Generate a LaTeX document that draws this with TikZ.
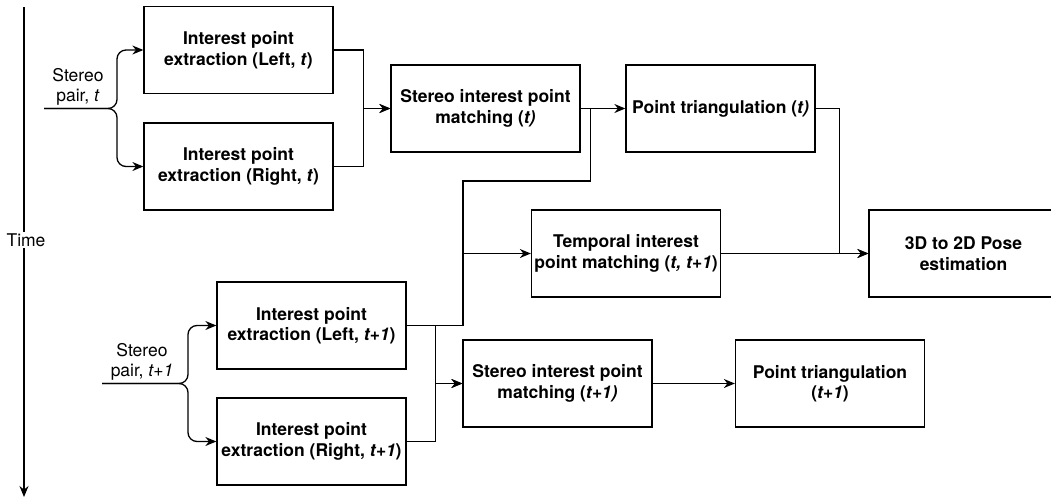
\documentclass[tikz,border=0pt]{standalone}
\usepackage{fontspec}
\setmainfont{TeX Gyre Heros}
\usetikzlibrary{arrows.meta}

\begin{document}
\begin{tikzpicture}[x=1pt,y=-1pt,
  box/.style={draw, line width=1.3pt, minimum width=189pt, minimum height=87pt,
    align=center, font=\fontsize{17.5}{20.5}\selectfont\bfseries, inner sep=2pt},
  lbl/.style={align=center, font=\fontsize{17.5}{20.5}\selectfont},
  link/.style={line width=1.3pt},
  arr/.style={link, -{Stealth[length=11pt,width=9pt]}},
  brace/.style={arr, rounded corners=9pt}]
\useasboundingbox (0,0) rectangle (1051,498);
%time axis
\coordinate (t0) at (24,7);
\coordinate (t1) at (24,497);
\draw[arr] (t0) -- (t1);
\node[lbl, fill=white, inner sep=1pt] (time) at (26,240) {Time};

%stereo pair t
\node[box] (L1) at (238.5,50) {Interest point\\extraction (Left, \textit{t})};
\node[box] (R1) at (238.5,166.5) {Interest point\\extraction (Right, \textit{t})};
\node[box] (S1) at (485.5,108.5) {Stereo interest point\\matching (\textit{t)}};
\node[box] (T1) at (720.5,108.5) {Point triangulation (\textit{t)}};
\coordinate (in1) at (44,108.5);
\node[lbl] (p1) at (78,87) {Stereo\\pair, \textit{t}};
\draw[brace] (in1) -- (117,108.5) |- (L1.west);
\draw[brace] (in1) -- (117,108.5) |- (R1.west);
\draw[arr] (L1.east) -- ++(30,0) |- (S1.west);
\draw[arr] (R1.east) -- ++(30,0) |- (S1.west);
\draw[arr] (S1.east) -- (T1.west);

%temporal + pose
\node[box] (TM) at (626,253.5) {Temporal interest\\point matching (\textit{t, t+1})};
\node[box] (P) at (963.5,253.5) {3D to 2D Pose\\estimation};
\draw[arr] (TM.east) -- (P.west);
\draw[arr] (T1.east) -- ++(24,0) |- (P.west);

%stereo pair t+1
\node[box] (L2) at (311.5,325.5) {Interest point\\extraction (Left, \textit{t+1})};
\node[box] (R2) at (311.5,441.5) {Interest point\\extraction (Right, \textit{t+1})};
\node[box] (S2) at (557.5,383.5) {Stereo interest point\\matching (\textit{t+1)}};
\node[box] (T2) at (830,383.5) {Point triangulation\\(\textit{t+1})};
\coordinate (in2) at (102,383.5);
\node[lbl] (p2) at (142,362) {Stereo\\pair, \textit{t+1}};
\draw[brace] (in2) -- (188,383.5) |- (L2.west);
\draw[brace] (in2) -- (188,383.5) |- (R2.west);
\draw[arr] (L2.east) -- ++(29,0) |- (S2.west);
\draw[arr] (R2.east) -- ++(29,0) |- (S2.west);
\draw[arr] (S2.east) -- (T2.west);

%matches t to t+1
\coordinate (bend) at (463,181);
\draw[link] (S1.east) -- ++(10,0) |- (bend) -- (bend |- L2.east) -- (L2.east);
\draw[arr] (bend |- TM.west) -- (TM.west);
\end{tikzpicture}
\end{document}
